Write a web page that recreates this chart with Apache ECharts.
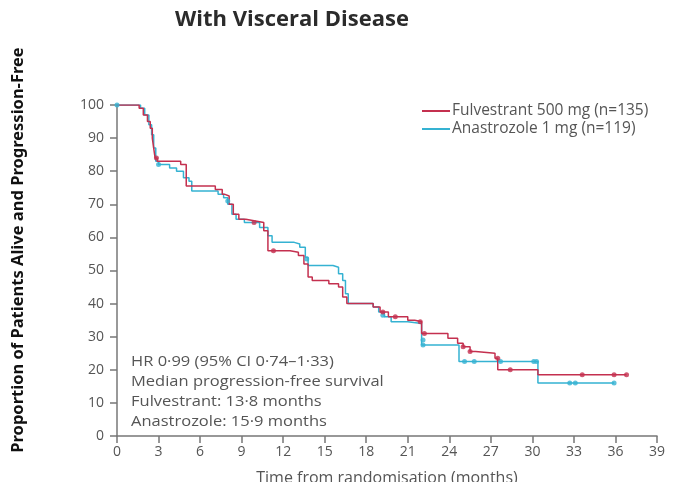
<!DOCTYPE html>
<html>
<head>
<meta charset="utf-8">
<script src="https://cdn.jsdelivr.net/npm/echarts@6/dist/echarts.min.js"></script>
<style>
  html, body { margin: 0; padding: 0; background: #fff; }
  #main { width: 677px; height: 482px; }
</style>
</head>
<body>
<div id="main"></div>
<script>
// Kaplan-Meier steps [month, % progression-free]
var fulvestrantSteps = [
  [0,100],[1.2,100],[1.6,99],[1.9,97],[2.2,95],[2.4,93],[2.55,90],[2.65,87],[2.75,84],[2.9,83],
  [4.6,82],[5.0,75.5],[7.1,74.5],[7.6,73],[7.8,72.5],[8.1,70],[8.4,67],[8.8,65.5],[9.3,65],[9.9,64.5],
  [10.6,62],[10.9,56],[12.5,55.5],[13.1,54.5],[13.5,52],[13.8,48],[14.1,47],[15.3,46],[16.0,45],[16.3,42],
  [16.6,40],[18.5,39],[19.0,37.5],[19.6,36],[21.0,35],[21.5,34.5],[22.0,31],[23.9,29.5],[24.6,28],[25.0,27],
  [25.5,25.5],[25.9,25],[27.3,23.5],[27.5,20],[30.4,18.5],[36.8,18.5]
];
var anastrozoleSteps = [
  [0,100],[1.4,100],[1.7,99],[2.0,97],[2.3,94],[2.5,91],[2.65,87],[2.8,83],[3.0,82],[3.8,81],
  [4.3,80],[4.8,78],[5.2,77],[5.4,74],[7.3,73],[7.7,72],[8.0,70],[8.3,67],[8.6,65.5],[9.2,64.5],
  [10.3,63],[10.9,60.5],[11.2,58.5],[12.8,58],[13.2,57],[13.6,54],[13.8,51.5],[15.6,51],[16.0,49],[16.3,47],
  [16.5,43],[16.7,40],[18.5,39],[18.9,37.5],[19.3,36],[19.8,34.5],[21.0,34],[22.0,27.5],[24.7,22.5],[30.4,16],
  [35.9,16]
];
// censoring ticks
var fulvestrantCensored = [
  [2.85,84],[9.9,64.5],[11.3,56],[19.2,37.5],[20.1,36],[21.9,34.5],[22.2,31],[25.0,27],[25.5,25.5],
  [27.5,23.5],[28.4,20],[33.6,18.5],[35.9,18.5],[36.8,18.5]
];
var anastrozoleCensored = [
  [0,100],[3.0,82],[8.0,71],[13.7,53.5],[19.2,36.5],[22.1,29],[22.1,27.5],[25.1,22.5],[25.8,22.5],
  [27.7,22.5],[30.1,22.5],[30.3,22.5],[32.7,16],[33.1,16],[35.9,16]
];
var seriesNames = ['Fulvestrant 500 mg (n=135)', 'Anastrozole 1 mg (n=119)'];
var annotationLines = [
  'HR 0·99 (95% CI 0·74–1·33)',
  'Median progression-free survival',
  'Fulvestrant: 13·8 months',
  'Anastrozole: 15·9 months'
];

var red = '#c4304f';
var blue = '#35b2d2';
var textGrey = '#555';

var myChart = echarts.init(document.getElementById('main'));
var option = {
  animation: false,
  backgroundColor: '#fff',
  title: {
    text: 'With Visceral Disease',
    left: 287,
    textAlign: 'center',
    top: 4,
    textStyle: { fontFamily: 'Open Sans', fontWeight: 'bold', fontSize: 22, color: '#2b2b2b' }
  },
  legend: {
    orient: 'vertical',
    left: 417,
    top: 98,
    itemGap: 2,
    itemWidth: 28,
    itemHeight: 2,
    icon: 'rect',
    data: seriesNames,
    textStyle: { fontFamily: 'Open Sans', fontSize: 15.5, color: textGrey, padding: [0, 0, 0, -3] }
  },
  grid: { left: 117, right: 20, top: 105, bottom: 46, outerBoundsMode: 'none' },
  xAxis: {
    type: 'value',
    min: 0,
    max: 39,
    interval: 3,
    name: 'Time from randomisation (months)',
    nameLocation: 'middle',
    nameGap: 34,
    nameTextStyle: { fontFamily: 'Open Sans', fontSize: 16, color: textGrey },
    splitLine: { show: false },
    axisLine: { lineStyle: { color: '#777', width: 1.5 } },
    axisTick: { length: 7, lineStyle: { color: '#777', width: 1.5 } },
    axisLabel: { fontFamily: 'Open Sans', fontSize: 14, color: textGrey, margin: 9 }
  },
  yAxis: {
    type: 'value',
    min: 0,
    max: 100,
    interval: 10,
    splitLine: { show: false },
    axisLine: { show: true, lineStyle: { color: '#777', width: 1.5 } },
    axisTick: { show: true, length: 7, lineStyle: { color: '#777', width: 1.5 } },
    axisLabel: { fontFamily: 'Open Sans', fontSize: 14, color: textGrey, margin: 13 }
  },
  graphic: [
    {
      type: 'text',
      x: 18,
      y: 250,
      rotation: Math.PI / 2,
      style: {
        text: 'Proportion of Patients Alive and Progression-Free',
        fontFamily: 'Noto Sans',
        fontWeight: 'bold',
        fontSize: 16.5,
        fill: '#111',
        align: 'center',
        verticalAlign: 'middle'
      }
    }
  ].concat(annotationLines.map(function (t, i) {
    return {
      type: 'text',
      x: 131,
      y: 362 + i * 20,
      scaleX: 1.1,
      style: { text: t, fontFamily: 'Open Sans', fontSize: 15, fill: textGrey, verticalAlign: 'middle' }
    };
  })),
  series: [
    {
      name: seriesNames[0],
      type: 'line',
      step: 'end',
      symbol: 'none',
      color: red,
      lineStyle: { width: 1.5 },
      data: fulvestrantSteps,
      z: 3
    },
    {
      name: seriesNames[1],
      type: 'line',
      step: 'end',
      symbol: 'none',
      color: blue,
      lineStyle: { width: 1.5 },
      data: anastrozoleSteps,
      z: 2
    },
    {
      type: 'scatter',
      symbolSize: 5,
      itemStyle: { color: red },
      data: fulvestrantCensored,
      z: 4
    },
    {
      type: 'scatter',
      symbolSize: 5,
      itemStyle: { color: blue },
      data: anastrozoleCensored,
      z: 3
    }
  ]
};
myChart.setOption(option);
</script>
</body>
</html>
